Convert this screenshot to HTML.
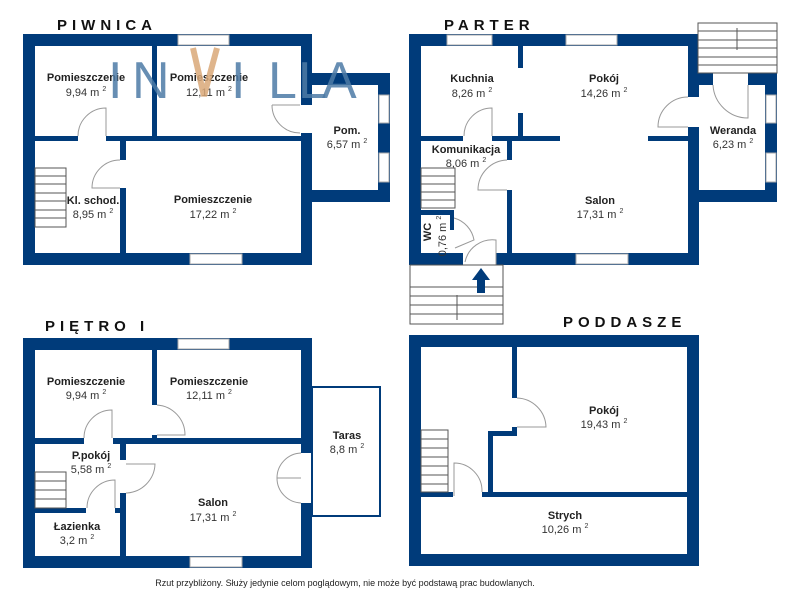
<!DOCTYPE html>
<html><head><meta charset="utf-8"><style>
html,body{margin:0;padding:0;background:#fff;width:800px;height:600px;overflow:hidden}
text{font-family:"Liberation Sans",sans-serif}
.t{font-size:15px;font-weight:bold;letter-spacing:5px;fill:#111}
.n{font-size:11px;font-weight:bold;fill:#222;text-anchor:middle}
.a{font-size:11px;fill:#333;text-anchor:middle}
.s{font-size:7px}
.wm{font-size:52px;fill:#4d7ba6;opacity:.85}
</style></head><body>
<svg width="800" height="600" viewBox="0 0 800 600" xmlns="http://www.w3.org/2000/svg">
<defs><style>.w{fill:#003b7a}.win{fill:#fff;stroke:#aaa;stroke-width:1}.d{fill:none;stroke:#999;stroke-width:1}.st{fill:#fff;stroke:#555;stroke-width:1}</style></defs>

<!-- PIWNICA -->
<text class="t" x="57" y="30">PIWNICA</text>
<g>
<rect class="w" x="23" y="34" width="289" height="12"/>
<rect class="w" x="23" y="253" width="289" height="12"/>
<rect class="w" x="23" y="34" width="12" height="231"/>
<rect class="w" x="301" y="34" width="11" height="231"/>
<rect class="w" x="312" y="73" width="78" height="12"/>
<rect class="w" x="312" y="190" width="78" height="12"/>
<rect class="w" x="378" y="73" width="12" height="129"/>
<rect class="w" x="35" y="136" width="266" height="5"/>
<rect class="w" x="152" y="46" width="5" height="90"/>
<rect class="w" x="120" y="141" width="6" height="112"/>
<!-- openings -->
<rect class="win" x="178" y="35" width="51" height="10"/>
<rect class="win" x="190" y="254" width="52" height="10"/>
<rect x="301" y="105" width="11" height="28" fill="#fff"/>
<rect class="win" x="379" y="95" width="10" height="28"/>
<rect class="win" x="379" y="153" width="10" height="29"/>
<rect x="78" y="136" width="28" height="5" fill="#fff"/>
<rect x="120" y="160" width="6" height="28" fill="#fff"/>
<path class="d" d="M106 136 V108 A28 28 0 0 0 78 136"/>
<path class="d" d="M120 160 A28 28 0 0 0 92 188 H120"/>
<path class="d" d="M272 105 A28 28 0 0 0 300 133 M272 105 H300"/>
<g class="st"><rect x="35" y="168" width="31" height="59"/>
<path d="M35 176H66M35 184H66M35 193H66M35 201H66M35 210H66M35 218H66"/></g>
</g>
<text class="n" x="86" y="81">Pomieszczenie</text><text class="a" x="86" y="96">9,94 m <tspan class="s" dy="-5">2</tspan></text>
<text class="n" x="209" y="81">Pomieszczenie</text><text class="a" x="209" y="96">12,11 m <tspan class="s" dy="-5">2</tspan></text>
<text class="n" x="347" y="134">Pom.</text><text class="a" x="347" y="148">6,57 m <tspan class="s" dy="-5">2</tspan></text>
<text class="n" x="93" y="204">Kl. schod.</text><text class="a" x="93" y="218">8,95 m <tspan class="s" dy="-5">2</tspan></text>
<text class="n" x="213" y="203">Pomieszczenie</text><text class="a" x="213" y="218">17,22 m <tspan class="s" dy="-5">2</tspan></text>
<!-- watermark -->
<text class="wm" x="108" y="98">I</text>
<text class="wm" x="132" y="98">N</text>
<path d="M193 48 L204 96 L217 48" fill="none" stroke="#d9a878" stroke-width="6" opacity=".85"/>
<text class="wm" x="231" y="98">I</text>
<text class="wm" x="268" y="98">L</text>
<text class="wm" x="298" y="98">L</text>
<text class="wm" x="322" y="98">A</text>

<!-- PARTER -->
<text class="t" x="444" y="30">PARTER</text>
<g>
<rect class="w" x="409" y="34" width="290" height="12"/>
<rect class="w" x="409" y="253" width="290" height="12"/>
<rect class="w" x="409" y="34" width="12" height="231"/>
<rect class="w" x="688" y="34" width="11" height="231"/>
<rect class="w" x="699" y="73" width="78" height="12"/>
<rect class="w" x="699" y="190" width="78" height="12"/>
<rect class="w" x="765" y="73" width="12" height="129"/>
<rect class="w" x="518" y="46" width="5" height="22"/>
<rect class="w" x="518" y="113" width="5" height="23"/>
<rect class="w" x="421" y="136" width="139" height="5"/>
<rect class="w" x="648" y="136" width="40" height="5"/>
<rect class="w" x="507" y="141" width="5" height="112"/>
<rect class="w" x="421" y="210" width="33" height="5"/>
<rect class="w" x="450" y="210" width="4" height="20"/>
<rect class="win" x="447" y="35" width="45" height="10"/>
<rect class="win" x="566" y="35" width="51" height="10"/>
<rect class="win" x="576" y="254" width="52" height="10"/>
<rect x="713" y="73" width="35" height="12" fill="#fff"/>
<rect class="win" x="766" y="95" width="10" height="28"/>
<rect class="win" x="766" y="153" width="10" height="29"/>
<rect x="463" y="136" width="29" height="5" fill="#fff"/>
<rect x="507" y="160" width="5" height="30" fill="#fff"/>
<rect x="463" y="253" width="33" height="12" fill="#fff"/>
<rect x="688" y="97" width="11" height="30" fill="#fff"/>
<path class="d" d="M492 136 V108 A28 28 0 0 0 464 136"/>
<path class="d" d="M507 160 A30 30 0 0 0 478 190 H507"/>
<path class="d" d="M688 97 A30 30 0 0 0 658 127 H688"/>
<path class="d" d="M713 85 A35 35 0 0 0 748 118 V85"/>
<path class="d" d="M454 218 A28 28 0 0 1 474 240 L455 248"/>
<path class="d" d="M496 266 V240 A28 28 0 0 0 465 262"/>
<g class="st"><rect x="421" y="168" width="34" height="40"/>
<path d="M421 176H455M421 184H455M421 192H455M421 200H455"/></g>
<g class="st"><rect x="698" y="23" width="79" height="50"/>
<path d="M698 31H777M698 40H777M698 48H777M698 57H777M698 65H777M737 28V50"/></g>
<g class="st"><rect x="410" y="265" width="93" height="59"/>
<path d="M410 287H503M410 296H503M410 305H503M410 314H503M457 295V320"/></g>
<path d="M481 268 L472 280 H477 V293 H485 V280 H490 Z" fill="#003b7a"/>
</g>
<text class="n" x="472" y="82">Kuchnia</text><text class="a" x="472" y="97">8,26 m <tspan class="s" dy="-5">2</tspan></text>
<text class="n" x="604" y="82">Pokój</text><text class="a" x="604" y="97">14,26 m <tspan class="s" dy="-5">2</tspan></text>
<text class="n" x="466" y="153">Komunikacja</text><text class="a" x="466" y="167">8,06 m <tspan class="s" dy="-5">2</tspan></text>
<text class="n" x="600" y="204">Salon</text><text class="a" x="600" y="218">17,31 m <tspan class="s" dy="-5">2</tspan></text>
<text class="n" x="733" y="134">Weranda</text><text class="a" x="733" y="148">6,23 m <tspan class="s" dy="-5">2</tspan></text>
<text class="n" transform="translate(431 232) rotate(-90)">WC</text>
<text class="a" transform="translate(446 236) rotate(-90)">0,76 m <tspan class="s" dy="-5">2</tspan></text>

<!-- PIETRO I -->
<text class="t" x="45" y="331">PIĘTRO I</text>
<g>
<rect class="w" x="23" y="338" width="289" height="12"/>
<rect class="w" x="23" y="556" width="289" height="12"/>
<rect class="w" x="23" y="338" width="12" height="230"/>
<rect class="w" x="301" y="338" width="11" height="230"/>
<rect class="w" x="35" y="438" width="266" height="6"/>
<rect class="w" x="152" y="350" width="5" height="88"/>
<rect class="w" x="120" y="444" width="6" height="112"/>
<rect class="w" x="35" y="508" width="85" height="5"/>
<rect class="win" x="178" y="339" width="51" height="10"/>
<rect class="win" x="190" y="557" width="52" height="10"/>
<rect x="301" y="453" width="11" height="50" fill="#fff"/>
<rect x="152" y="405" width="5" height="30" fill="#fff"/>
<rect x="84" y="438" width="29" height="6" fill="#fff"/>
<rect x="86" y="508" width="29" height="5" fill="#fff"/>
<rect x="120" y="460" width="6" height="33" fill="#fff"/>
<path class="d" d="M112 438 V410 A28 28 0 0 0 84 438"/>
<path class="d" d="M157 405 A30 30 0 0 1 185 435 H157"/>
<path class="d" d="M126 464 H155 A30 30 0 0 1 126 493"/>
<path class="d" d="M115 508 V480 A28 28 0 0 0 87 508"/>
<path class="d" d="M301 453 A25 25 0 0 0 277 478 H301 M277 478 A25 25 0 0 0 301 503"/>
<g class="st"><rect x="35" y="472" width="31" height="36"/>
<path d="M35 481H66M35 490H66M35 499H66"/></g>
<rect x="312" y="387" width="68" height="129" fill="none" stroke="#003b7a" stroke-width="2"/>
</g>
<text class="n" x="86" y="385">Pomieszczenie</text><text class="a" x="86" y="399">9,94 m <tspan class="s" dy="-5">2</tspan></text>
<text class="n" x="209" y="385">Pomieszczenie</text><text class="a" x="209" y="399">12,11 m <tspan class="s" dy="-5">2</tspan></text>
<text class="n" x="91" y="459">P.pokój</text><text class="a" x="91" y="473">5,58 m <tspan class="s" dy="-5">2</tspan></text>
<text class="n" x="77" y="530">Łazienka</text><text class="a" x="77" y="544">3,2 m <tspan class="s" dy="-5">2</tspan></text>
<text class="n" x="213" y="506">Salon</text><text class="a" x="213" y="521">17,31 m <tspan class="s" dy="-5">2</tspan></text>
<text class="n" x="347" y="439">Taras</text><text class="a" x="347" y="453">8,8 m <tspan class="s" dy="-5">2</tspan></text>

<!-- PODDASZE -->
<text class="t" x="563" y="327">PODDASZE</text>
<g>
<rect class="w" x="409" y="335" width="290" height="12"/>
<rect class="w" x="409" y="554" width="290" height="12"/>
<rect class="w" x="409" y="335" width="12" height="231"/>
<rect class="w" x="687" y="335" width="12" height="231"/>
<rect class="w" x="512" y="347" width="5" height="51"/>
<rect class="w" x="512" y="427" width="5" height="9"/>
<rect class="w" x="488" y="431" width="29" height="5"/>
<rect class="w" x="488" y="431" width="5" height="61"/>
<rect class="w" x="421" y="492" width="32" height="5"/>
<rect class="w" x="482" y="492" width="205" height="5"/>
<path class="d" d="M517 398 A30 30 0 0 1 546 427 H517"/>
<path class="d" d="M454 496 V463 A28 28 0 0 1 482 492"/>
<g class="st"><rect x="421" y="430" width="27" height="62"/>
<path d="M421 439H448M421 448H448M421 457H448M421 466H448M421 475H448M421 484H448"/></g>
</g>
<text class="n" x="604" y="414">Pokój</text><text class="a" x="604" y="428">19,43 m <tspan class="s" dy="-5">2</tspan></text>
<text class="n" x="565" y="519">Strych</text><text class="a" x="565" y="533">10,26 m <tspan class="s" dy="-5">2</tspan></text>

<text x="345" y="586" style="font-size:9px;fill:#222;text-anchor:middle">Rzut przybliżony. Służy jedynie celom poglądowym, nie może być podstawą prac budowlanych.</text>
</svg>
</body></html>
